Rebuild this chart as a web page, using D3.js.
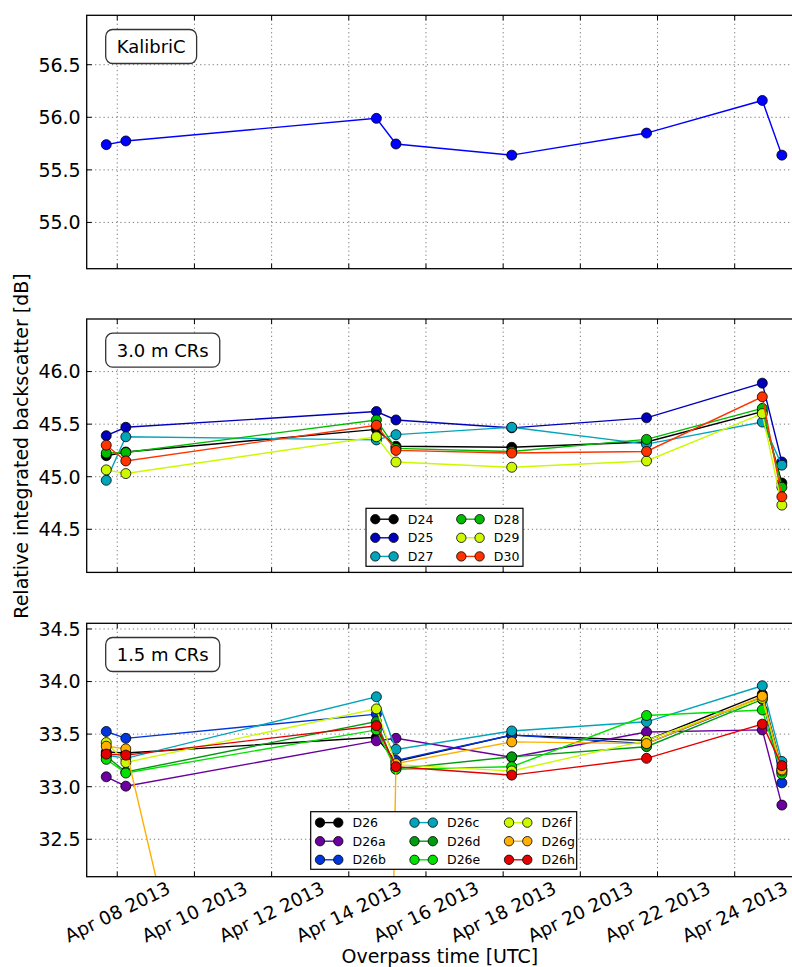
<!DOCTYPE html>
<html>
<head>
<meta charset="utf-8">
<script src="https://cdn.jsdelivr.net/npm/d3@7"></script>
<style>
  body { margin: 0; background: #fff; }
  svg { display: block; font-family: "DejaVu Sans", sans-serif; }
</style>
</head>
<body>
<svg width="792" height="967"></svg>
<script>
// overpass times (UTC)
const times = [
  Date.UTC(2013, 3, 7, 17, 10), Date.UTC(2013, 3, 8, 5, 20),
  Date.UTC(2013, 3, 14, 17, 10), Date.UTC(2013, 3, 15, 5, 20),
  Date.UTC(2013, 3, 18, 5, 20), Date.UTC(2013, 3, 21, 17, 10),
  Date.UTC(2013, 3, 24, 17, 10), Date.UTC(2013, 3, 25, 5, 20)
].map(t => new Date(t));

// KalibriC
const kalibricNames = ['KalibriC'];
const kalibricColors = ['#0000ff'];
const kalibricValues = [
  [55.74, 55.775, 55.99, 55.746, 55.64, 55.85, 56.16, 55.64]
];

// 3.0 m corner reflectors
const cr30Names = ['D24', 'D25', 'D27', 'D28', 'D29', 'D30'];
const cr30Colors = ['#000000', '#0000bb', '#00a4bb', '#00bb00', '#ccf900', '#ff3300'];
const cr30Values = [
  [45.20, 45.235, 45.45, 45.29, 45.28, 45.33, 45.62, 44.94],
  [45.39, 45.47, 45.62, 45.54, 45.465, 45.56, 45.89, 45.14],
  [44.966, 45.38, 45.35, 45.40, 45.47, 45.31, 45.52, 45.11],
  [45.225, 45.23, 45.54, 45.27, 45.24, 45.355, 45.65, 44.90],
  [45.065, 45.03, 45.38, 45.14, 45.09, 45.15, 45.60, 44.73],
  [45.30, 45.15, 45.49, 45.25, 45.225, 45.24, 45.76, 44.81]
];

// 1.5 m corner reflectors
const cr15Names = ['D26', 'D26a', 'D26b', 'D26c', 'D26d', 'D26e', 'D26f', 'D26g', 'D26h'];
const cr15Colors = ['#000000', '#6a009d', '#0035dd', '#00a4bb', '#009b0f', '#00e100', '#ccf900', '#ffb000', '#e40000'];
const cr15Values = [
  [33.33, 33.32, 33.47, 33.24, 33.49, 33.44, 33.88, 33.17],
  [33.094, 33.005, 33.436, 33.46, 33.28, 33.52, 33.54, 32.825],
  [33.525, 33.46, 33.69, 33.25, 33.49, 33.41, 33.85, 33.037],
  [33.30, 33.27, 33.855, 33.355, 33.53, 33.617, 33.96, 33.24],
  [33.29, 33.14, 33.62, 33.17, 33.284, 33.38, 33.83, 33.14],
  [33.26, 33.13, 33.54, 33.165, 33.19, 33.677, 33.73, 33.12],
  [33.42, 33.23, 33.74, 33.21, 33.15, 33.44, 33.84, 33.15],
  [33.385, 33.36, 23.2, 33.22, 33.426, 33.41, 33.86, 33.16],
  [33.31, 33.30, 33.58, 33.19, 33.11, 33.27, 33.595, 33.20]
];

// axes
const xDomain = [new Date(Date.UTC(2013, 3, 7, 5, 0)), new Date(Date.UTC(2013, 3, 25, 13, 30))];
const xTicks = d3.range(8, 25, 2).map(d => new Date(Date.UTC(2013, 3, d)));
const yDomains = [[54.56, 56.97], [44.09, 46.5], [32.144, 34.554]];
const yTicks = [[55.0, 55.5, 56.0, 56.5], [44.5, 45.0, 45.5, 46.0], [32.5, 33.0, 33.5, 34.0, 34.5]];
const panelLabels = ['KalibriC', '3.0 m CRs', '1.5 m CRs'];

const svg = d3.select('svg');
const left = 86.7, right = 795;
const panelTops = [15.3, 319, 623.3];
const panelH = 253.4;

const x = d3.scaleUtc().domain(xDomain).range([left, right]);

const panels = [
  { names: kalibricNames, colors: kalibricColors, values: kalibricValues, legend: null },
  { names: cr30Names, colors: cr30Colors, values: cr30Values, legend: { x: 366, y: 508.3, w: 157, h: 58 } },
  { names: cr15Names, colors: cr15Colors, values: cr15Values, legend: { x: 310.7, y: 811.7, w: 266, h: 57.6 } }
];

panels.forEach((p, i) => {
  const top = panelTops[i], bottom = top + panelH;
  const y = d3.scaleLinear().domain(yDomains[i]).range([bottom, top]);
  const g = svg.append('g');

  g.append('clipPath').attr('id', 'clip' + i)
    .append('rect').attr('x', left).attr('y', top).attr('width', right - left).attr('height', panelH);

  // grille pointillée
  const grid = g.append('g').attr('stroke', '#555').attr('stroke-width', 0.8).attr('stroke-dasharray', '1.2,3');
  xTicks.forEach(t => grid.append('line')
    .attr('x1', x(t)).attr('x2', x(t)).attr('y1', top).attr('y2', bottom));
  yTicks[i].forEach(v => grid.append('line')
    .attr('x1', left).attr('x2', right).attr('y1', y(v)).attr('y2', y(v)));

  // ticks pointing inward
  const ticks = g.append('g').attr('stroke', '#000').attr('stroke-width', 1);
  xTicks.forEach(t => {
    ticks.append('line').attr('x1', x(t)).attr('x2', x(t)).attr('y1', bottom).attr('y2', bottom - 5);
    ticks.append('line').attr('x1', x(t)).attr('x2', x(t)).attr('y1', top).attr('y2', top + 5);
  });
  yTicks[i].forEach(v => {
    ticks.append('line').attr('x1', left).attr('x2', left + 5).attr('y1', y(v)).attr('y2', y(v));
  });

  // y tick labels
  g.append('g').selectAll('text').data(yTicks[i]).join('text')
    .attr('x', left - 6).attr('y', d => y(d)).attr('dy', '0.36em')
    .attr('text-anchor', 'end').attr('font-size', 19).attr('fill', '#000')
    .text(d => d.toFixed(1));

  // series
  const plot = g.append('g').attr('clip-path', `url(#clip${i})`);
  const line = d3.line().x((d, j) => x(times[j])).y(d => y(d));
  p.values.forEach((vals, k) => {
    const sg = plot.append('g');
    sg.append('path').attr('d', line(vals)).attr('fill', 'none')
      .attr('stroke', p.colors[k]).attr('stroke-width', 1.4);
    sg.selectAll('circle').data(vals).join('circle')
      .attr('cx', (d, j) => x(times[j])).attr('cy', d => y(d)).attr('r', 5)
      .attr('fill', p.colors[k]).attr('stroke', '#000').attr('stroke-width', 0.8);
  });

  // frame
  g.append('rect').attr('x', left).attr('y', top).attr('width', right - left).attr('height', panelH)
    .attr('fill', 'none').attr('stroke', '#000').attr('stroke-width', 1.3);

  // label box
  const lab = g.append('g');
  const lt = lab.append('text').attr('font-size', 18).attr('fill', '#000').text(panelLabels[i]);
  const tw = lt.node().getComputedTextLength();
  const bx = 105.7, by = top + 14.2, bw = tw + 22, bh = 34;
  lab.insert('rect', 'text').attr('x', bx).attr('y', by).attr('width', bw).attr('height', bh)
    .attr('rx', 7).attr('fill', '#fff').attr('stroke', '#333').attr('stroke-width', 1.3);
  lt.attr('x', bx + bw / 2).attr('y', by + bh / 2).attr('dy', '0.36em').attr('text-anchor', 'middle');

  // legend
  if (p.legend) {
    const L = p.legend;
    const lg = g.append('g');
    lg.append('rect').attr('x', L.x).attr('y', L.y).attr('width', L.w).attr('height', L.h)
      .attr('fill', '#fff').attr('stroke', '#000').attr('stroke-width', 1.2);
    const colW = p.names.length > 6 ? 94.5 : 86;
    p.names.forEach((n, k) => {
      const col = Math.floor(k / 3), row = k % 3;
      const cx = L.x + col * colW, cy = L.y + 10.9 + row * 18.6;
      lg.append('line').attr('x1', cx + 9.3).attr('x2', cx + 27.6).attr('y1', cy).attr('y2', cy)
        .attr('stroke', p.colors[k]).attr('stroke-width', 1.4);
      [9.3, 27.6].forEach(dx => lg.append('circle').attr('cx', cx + dx).attr('cy', cy).attr('r', 4.7)
        .attr('fill', p.colors[k]).attr('stroke', '#000').attr('stroke-width', 0.8));
      lg.append('text').attr('x', cx + 41.8).attr('y', cy).attr('dy', '0.36em')
        .attr('font-size', 12.5).attr('fill', '#000').text(n);
    });
  }

  // x tick labels on the bottom panel only
  if (i === panels.length - 1) {
    const fmt = d3.utcFormat('%b %d %Y');
    g.append('g').selectAll('text').data(xTicks).join('text')
      .attr('transform', d => `translate(${x(d)},${bottom + 35}) rotate(-26)`)
      .attr('text-anchor', 'middle').attr('dy', '0.36em')
      .attr('font-size', 18.5).attr('fill', '#000')
      .text(d => fmt(d));
  }
});

// axis titles
svg.append('text').attr('x', (left + right) / 2 - 1).attr('y', 963)
  .attr('text-anchor', 'middle').attr('font-size', 19).text('Overpass time [UTC]');
svg.append('text').attr('transform', 'translate(28,446) rotate(-90)')
  .attr('text-anchor', 'middle').attr('font-size', 19).text('Relative integrated backscatter [dB]');
</script>
</body>
</html>
